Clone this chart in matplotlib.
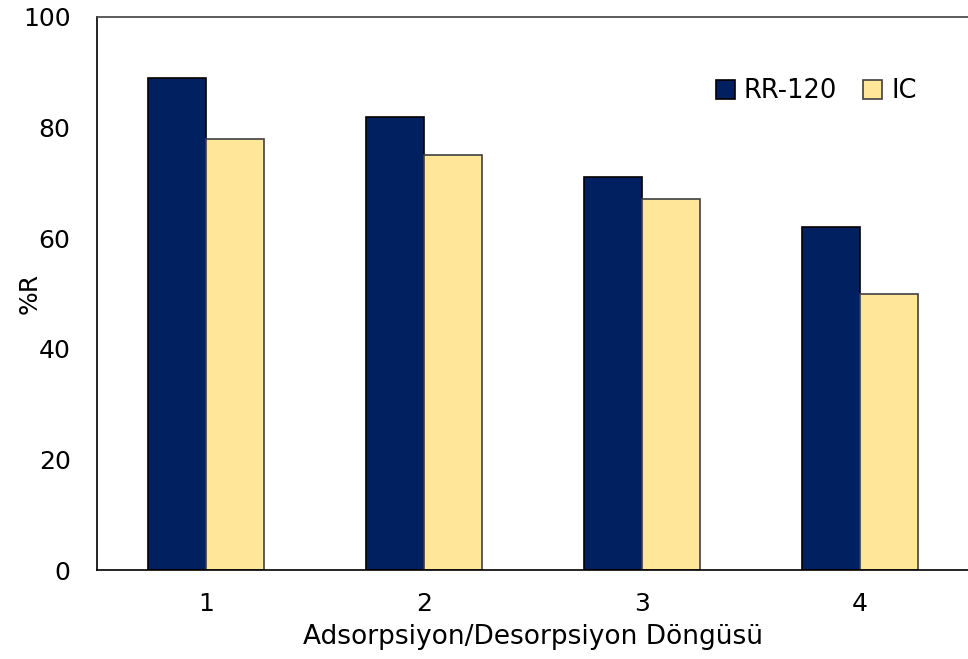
import matplotlib.pyplot as plt
import numpy as np

cycles = ["1", "2", "3", "4"]
rr120 = [89, 82, 71, 62]
ic = [78, 75, 67, 50]

plt.rcParams['font.family'] = ['DejaVu Sans']
fig = plt.figure(figsize=(9.68, 6.59), dpi=100)
ax = fig.add_axes([97/968, 1 - 570/659, 872/968, 553/659])

x = np.arange(1, len(cycles) + 1)
w = 0.266
ax.bar(x - w/2, rr120, w, color="#002060", edgecolor="black", linewidth=1.2, label="RR-120")
ax.bar(x + w/2, ic, w, color="#FFE699", edgecolor="#404040", linewidth=1.2, label="IC")

ax.set_xlim(0.5, 4.5)
ax.set_ylim(0, 100)
ax.set_yticks(range(0, 101, 20))
ax.set_xticks(x)
ax.set_xticklabels(cycles)
ax.tick_params(axis='both', length=0, labelsize=18)
ax.tick_params(axis='y', pad=19)
ax.tick_params(axis='x', pad=16)
ax.spines['right'].set_visible(False)
for s in ['left', 'top', 'bottom']:
    ax.spines[s].set_linewidth(1.2)
ax.spines['top'].set_color("#404040")
ax.set_xlabel("Adsorpsiyon/Desorpsiyon Döngüsü", fontsize=19, va='center')
ax.xaxis.set_label_coords(0.5, (570 - 637) / 553)
ax.set_ylabel("%R", fontsize=18, va='center')
ax.yaxis.set_label_coords((30 - 97) / 872, 0.5)
ax.legend(loc="upper right", bbox_to_anchor=(0.94, 0.889), frameon=False, fontsize=18.5,
          handlelength=0.75, handleheight=0.75, handletextpad=0.35, ncol=2, columnspacing=1.0,
          borderaxespad=0, borderpad=0)
fig.savefig("out.png")
